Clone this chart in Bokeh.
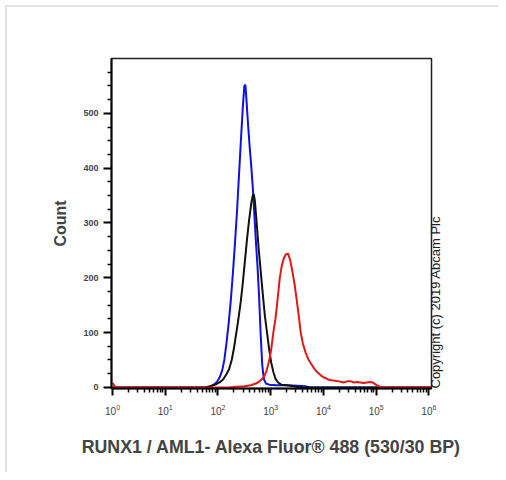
import numpy as np
from bokeh.plotting import figure
from bokeh.models import FixedTicker, LogTickFormatter, LinearAxis
from bokeh.embed import file_html
from bokeh.resources import INLINE

# ---- data (x given as log10 of intensity) ----
blue_log10 = [0.0, 1.80, 1.86, 1.92, 1.98, 2.03, 2.08, 2.12, 2.16, 2.20, 2.24, 2.28, 2.32, 2.36,
              2.40, 2.44, 2.47, 2.50, 2.52, 2.54, 2.57, 2.60, 2.63, 2.66, 2.69, 2.72, 2.75,
              2.78, 2.81, 2.84, 2.87, 2.91, 2.97, 3.10, 3.30, 3.50, 3.65, 3.75, 6.05]
blue_count = [0, 0, 2, 5, 10, 18, 31, 50, 80, 115, 155, 205, 260, 320,
              390, 460, 510, 550, 552, 525, 480, 440, 405, 365, 315, 265, 220,
              165, 95, 40, 15, 7, 5, 4, 4, 3, 2, 0, 0]

black_log10 = [0.0, 1.75, 1.85, 1.95, 2.03, 2.10, 2.16, 2.21, 2.26, 2.30, 2.34, 2.38, 2.43,
               2.47, 2.51, 2.55, 2.59, 2.63, 2.66, 2.68, 2.70, 2.73, 2.77, 2.81, 2.85, 2.89,
               2.93, 2.97, 3.01, 3.05, 3.09, 3.14, 3.20, 3.30, 3.45, 3.55, 6.05]
black_count = [0, 0, 2, 5, 9, 15, 24, 33, 50, 70, 95, 120, 155,
               190, 230, 270, 305, 335, 350, 352, 340, 305, 255, 212, 170, 130,
               100, 70, 45, 28, 16, 9, 5, 4, 2, 0, 0]

red_log10 = [0.0, 0.04, 0.08, 2.20, 2.35, 2.50, 2.62, 2.72, 2.80, 2.87, 2.92, 2.97, 3.01,
             3.05, 3.09, 3.13, 3.17, 3.21, 3.25, 3.29, 3.33, 3.37, 3.41, 3.45, 3.49, 3.53,
             3.57, 3.61, 3.66, 3.71, 3.76, 3.82, 3.88, 3.95, 4.01, 4.08, 4.15, 4.22, 4.30,
             4.38, 4.45, 4.52, 4.58, 4.64, 4.70, 4.76, 4.82, 4.88, 4.93, 4.98, 5.03, 5.08,
             5.12, 6.05]
red_count = [8, 2, 0, 0, 1, 2, 4, 7, 12, 19, 30, 48, 70,
             100, 125, 160, 198, 222, 236, 243, 244, 232, 212, 190, 162, 132,
             100, 80, 64, 52, 44, 35, 28, 22, 18, 15, 13, 12, 11,
             9, 11, 11, 9, 10, 9, 8, 9, 10, 9, 6, 3, 1,
             0, 0]

x_ticks = [1, 10, 100, 1000, 10000, 100000, 1000000]
y_ticks = [0, 100, 200, 300, 400, 500]

x_label = "RUNX1 / AML1- Alexa Fluor\u00ae 488 (530/30 BP)"
y_label = "Count"
copyright_text = "Copyright (c) 2019 Abcam Plc"

FONT = "Liberation Sans"

p = figure(width=498, height=472, x_axis_type="log",
           x_range=(10 ** -0.02, 10 ** 6.05), y_range=(-2, 600),
           output_backend="svg", toolbar_location=None,
           min_border_left=111, min_border_right=67,
           min_border_top=58, min_border_bottom=84)

p.xgrid.visible = False
p.ygrid.visible = False
p.outline_line_color = "#222222"
p.outline_line_width = 1.5
p.background_fill_color = "white"
p.border_fill_color = "white"

p.line(10 ** np.array(blue_log10), blue_count, line_color="#1010e0", line_width=2)
p.line(10 ** np.array(black_log10), black_count, line_color="#111111", line_width=2)
p.line(10 ** np.array(red_log10), red_count, line_color="#e01818", line_width=2)

# x axis
xa = p.xaxis[0]
xa.ticker = FixedTicker(ticks=x_ticks,
                        minor_ticks=[m * t for t in x_ticks[:-1] for m in range(2, 10)])
xa.formatter = LogTickFormatter()
xa.axis_line_width = 2
xa.axis_line_color = "black"
xa.major_tick_out = 7
xa.major_tick_in = 0
xa.minor_tick_out = 4
xa.minor_tick_in = 0
xa.major_tick_line_width = 2
xa.minor_tick_line_width = 1.5
xa.major_label_text_font = FONT
xa.major_label_text_font_size = "10px"
xa.major_label_standoff = 8
xa.axis_label = x_label
xa.axis_label_text_font = FONT
xa.axis_label_text_font_style = "bold"
xa.axis_label_text_font_size = "17.8px"
xa.axis_label_standoff = 19

# y axis
ya = p.yaxis[0]
ya.ticker = FixedTicker(ticks=y_ticks,
                        minor_ticks=[v for v in range(25, 600, 25) if v % 100 != 0])
ya.axis_line_width = 2
ya.axis_line_color = "black"
ya.major_tick_out = 8
ya.major_tick_in = 0
ya.minor_tick_out = 4
ya.minor_tick_in = 0
ya.major_tick_line_width = 2
ya.minor_tick_line_width = 1.5
ya.major_label_text_font = FONT
ya.major_label_text_font_style = "bold"
ya.major_label_text_font_size = "9px"
ya.major_label_standoff = 5
ya.axis_label = y_label
ya.axis_label_text_font = FONT
ya.axis_label_text_font_style = "bold"
ya.axis_label_text_font_size = "16px"
ya.axis_label_standoff = 11

# copyright note on the right, as the label of a bare right axis
ra = LinearAxis(ticker=FixedTicker(ticks=[]), axis_line_color=None,
                major_tick_line_color=None, minor_tick_line_color=None,
                major_tick_out=0, major_tick_in=0, minor_tick_out=0, minor_tick_in=0,
                major_label_standoff=0, axis_label=copyright_text,
                axis_label_standoff=4, axis_label_text_font=FONT,
                axis_label_text_font_style="normal", axis_label_text_font_size="13px",
                axis_label_text_color="#222222")
try:
    ra.axis_label_orientation = np.pi / 2
except Exception:
    pass
try:
    ra.axis_label_align = "start"
except Exception:
    pass
p.add_layout(ra, "right")

# light grey frame of the picture (decorative CSS)
try:
    from bokeh.models import InlineStyleSheet
    p.stylesheets = [InlineStyleSheet(css=(
        ":host::after { content: ''; position: absolute; left: 5px; top: 5px; "
        "right: 0; bottom: 0; border-left: 2px solid #e2e2e2; "
        "border-top: 2px solid #e2e2e2; pointer-events: none; }"))]
except Exception:
    pass

open("out.html", "w").write(file_html(p, INLINE))
